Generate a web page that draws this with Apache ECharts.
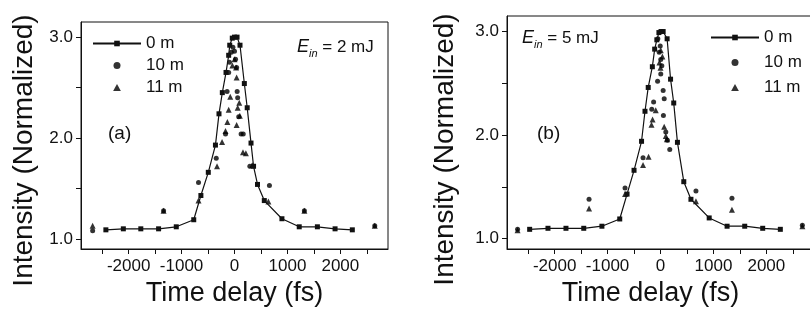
<!DOCTYPE html>
<html>
<head>
<meta charset="utf-8">
<script src="https://cdn.jsdelivr.net/npm/echarts@6/dist/echarts.min.js"></script>
<style>
    html, body {margin: 0; background: #fff;}
    #main {width: 810px; height: 320px;}
</style>
</head>
<body>
<div id="main"></div>
<script>
// names and ticks
var seriesNames = ['0 m', '10 m', '11 m'];
var xLabelValues = [-2000, -1000, 0, 1000, 2000];
var xTickValues = [-2500, -2000, -1500, -1000, -500, 0, 500, 1000, 1500, 2000, 2500];
var yLabelValues = [1, 2, 3];
var yTickValues = [1, 1.5, 2, 2.5, 3];

// panel (a), E_in = 2 mJ : [time delay fs, intensity]
var a0m = [[-2430, 1.09], [-2100, 1.10], [-1770, 1.10], [-1434, 1.10], [-1100, 1.12], [-770, 1.19],
    [-635, 1.43], [-495, 1.66], [-360, 1.93], [-293, 2.24], [-230, 2.45], [-160, 2.65], [-110, 2.82],
    [-90, 2.92], [-42, 2.99], [0, 3.0], [48, 3.0], [104, 2.92], [186, 2.54], [240, 2.30], [312, 1.95],
    [360, 1.72], [435, 1.54], [563, 1.38], [896, 1.20], [1223, 1.12], [1566, 1.12], [1900, 1.10], [2226, 1.09]];
var a10m = [[-2680, 1.08], [-1340, 1.28], [-680, 1.56], [-345, 1.80], [-170, 2.04], [-140, 2.46],
    [-110, 2.65], [-95, 2.75], [-60, 2.85], [-30, 2.90], [0, 2.86], [20, 2.78], [40, 2.70], [50, 2.46],
    [60, 2.40], [80, 2.21], [125, 2.04], [165, 2.04], [290, 1.72], [660, 1.53], [1320, 1.28], [2650, 1.13]];
var a11m = [[-2680, 1.13], [-1340, 1.28], [-680, 1.38], [-330, 1.72], [-235, 1.96], [-170, 2.07],
    [-135, 2.16], [-110, 2.28], [-80, 2.41], [-40, 2.72], [0, 2.78], [30, 2.70], [40, 2.60], [60, 2.30],
    [40, 2.13], [90, 2.35], [100, 2.22], [160, 1.86], [215, 1.85], [335, 1.73], [640, 1.37], [1320, 1.28], [2650, 1.13]];

// panel (b), E_in = 5 mJ
var b0m = [[-2472, 1.09], [-2126, 1.10], [-1786, 1.10], [-1450, 1.10], [-1107, 1.12], [-770, 1.19],
    [-632, 1.43], [-500, 1.66], [-358, 1.94], [-293, 2.23], [-232, 2.46], [-154, 2.66], [-110, 2.83],
    [-69, 2.92], [-30, 2.99], [10, 3.0], [50, 3.0], [125, 2.93], [190, 2.54], [250, 2.31], [320, 1.93],
    [440, 1.55], [575, 1.38], [920, 1.20], [1258, 1.12], [1591, 1.12], [1931, 1.10], [2264, 1.09]];
var b10m = [[-2700, 1.09], [-1350, 1.38], [-670, 1.49], [-330, 1.78], [-165, 2.25], [-130, 2.32],
    [-55, 2.52], [-50, 2.93], [-25, 2.80], [-5, 2.86], [5, 2.73], [25, 2.67], [5, 2.59], [50, 2.43],
    [70, 2.35], [55, 2.19], [100, 2.03], [130, 1.95], [175, 1.86], [670, 1.46], [1350, 1.39], [2680, 1.13]];
var b11m = [[-2700, 1.08], [-1350, 1.29], [-670, 1.43], [-330, 1.71], [-225, 1.79], [-170, 2.10],
    [-150, 2.15], [-90, 2.24], [-20, 2.70], [5, 2.82], [35, 2.76], [0, 2.65], [70, 2.08], [100, 1.99],
    [120, 1.96], [670, 1.36], [1350, 1.28], [2680, 1.12]];

var ink = '#111';
var fontFam = 'Liberation Sans, Arial, sans-serif';

function xAxisFor(gi, namePad) {
    return {
        type: 'value', gridIndex: gi, min: -2900, max: 2900,
        name: 'Time delay (fs)', nameLocation: 'middle', nameGap: 31,
        nameTextStyle: {fontSize: 27, color: ink, fontFamily: fontFam, padding: namePad},
        axisLine: {show: true, onZero: false, lineStyle: {color: ink, width: 1}},
        axisTick: {show: true, length: 5, customValues: xTickValues, lineStyle: {color: ink}},
        axisLabel: {
            customValues: xLabelValues, margin: 9, fontSize: 17, color: ink, fontFamily: fontFam,
            formatter: function (v) { return String(v); }
        },
        splitLine: {show: false}
    };
}

function yAxisFor(gi, namePad, gap) {
    return {
        type: 'value', gridIndex: gi, min: 0.9, max: 3.15,
        name: 'Intensity (Normalized)', nameLocation: 'middle', nameGap: gap,
        nameTextStyle: {fontSize: 28, color: ink, fontFamily: fontFam, padding: namePad},
        axisLine: {show: true, onZero: false, lineStyle: {color: ink, width: 1}},
        axisTick: {show: true, length: 5, customValues: yTickValues, lineStyle: {color: ink}},
        axisLabel: {
            customValues: yLabelValues, margin: 8, fontSize: 17, color: ink, fontFamily: fontFam,
            formatter: function (v) { return v.toFixed(1); }
        },
        splitLine: {show: false}
    };
}

function panelSeries(gi, d0, d10, d11) {
    return [
        {
            name: seriesNames[0], type: 'line', xAxisIndex: gi, yAxisIndex: gi, data: d0,
            symbol: 'rect', symbolSize: 5, showAllSymbol: true,
            itemStyle: {color: ink}, lineStyle: {color: ink, width: 1.2}
        },
        {
            name: seriesNames[1], type: 'scatter', xAxisIndex: gi, yAxisIndex: gi, data: d10,
            symbol: 'circle', symbolSize: 5, itemStyle: {color: '#000'}
        },
        {
            name: seriesNames[2], type: 'scatter', xAxisIndex: gi, yAxisIndex: gi, data: d11,
            symbol: 'triangle', symbolSize: 6, itemStyle: {color: '#000'}
        }
    ];
}

function einText(x, y, val) {
    return {
        type: 'text', left: x, top: y,
        style: {
            text: '{e|E}{s|in}{n| = ' + val + ' mJ}',
            fill: ink,
            rich: {
                e: {fontSize: 18, fontStyle: 'italic', fontFamily: fontFam, lineHeight: 24, verticalAlign: 'middle'},
                s: {fontSize: 11, fontStyle: 'italic', fontFamily: fontFam, lineHeight: 12, verticalAlign: 'bottom'},
                n: {fontSize: 17, fontFamily: fontFam, lineHeight: 24, verticalAlign: 'middle'}
            }
        }
    };
}

// path icon so the legend triangle keeps its shape inside the 48px wide icon box
var legendData = [
    {name: seriesNames[0]},
    {name: seriesNames[1], icon: 'circle'},
    {name: seriesNames[2], icon: 'path://M5,0L10,9L0,9Z'}
];

function legendAt(x, y, gap) {
    return {
        left: x, top: y, itemGap: gap,
        orient: 'vertical', padding: 0, itemWidth: 48, itemHeight: 7,
        symbolKeepAspect: true, selectedMode: false, data: legendData,
        textStyle: {fontSize: 17, color: ink, fontFamily: fontFam}
    };
}

var mychart = echarts.init(document.getElementById('main'));
var option = {
    backgroundColor: '#fff',
    animation: false,
    grid: [
        {left: 81, right: 422, top: 22, bottom: 71, show: true, borderColor: ink, borderWidth: 1, outerBoundsMode: 'none'},
        {left: 507, right: -4, top: 16, bottom: 71, show: true, borderColor: ink, borderWidth: 1, outerBoundsMode: 'none'}
    ],
    legend: [legendAt(92, 35, 5), legendAt(710, 29, 8)],
    xAxis: [xAxisFor(0, [0, 0, 0, 0]), xAxisFor(1, [0, 20, 0, 0])],
    yAxis: [yAxisFor(0, [0, 30, 0, 0], 43), yAxisFor(1, [0, 34, 0, 0], 48)],
    graphic: [
        einText(297, 38, 2),
        einText(522, 29, 5),
        {type: 'text', left: 108, top: 124, style: {text: '(a)', fontSize: 19, fill: ink, fontFamily: fontFam}},
        {type: 'text', left: 537, top: 124, style: {text: '(b)', fontSize: 19, fill: ink, fontFamily: fontFam}}
    ],
    series: panelSeries(0, a0m, a10m, a11m).concat(panelSeries(1, b0m, b10m, b11m))
};
mychart.setOption(option);
</script>
</body>
</html>
